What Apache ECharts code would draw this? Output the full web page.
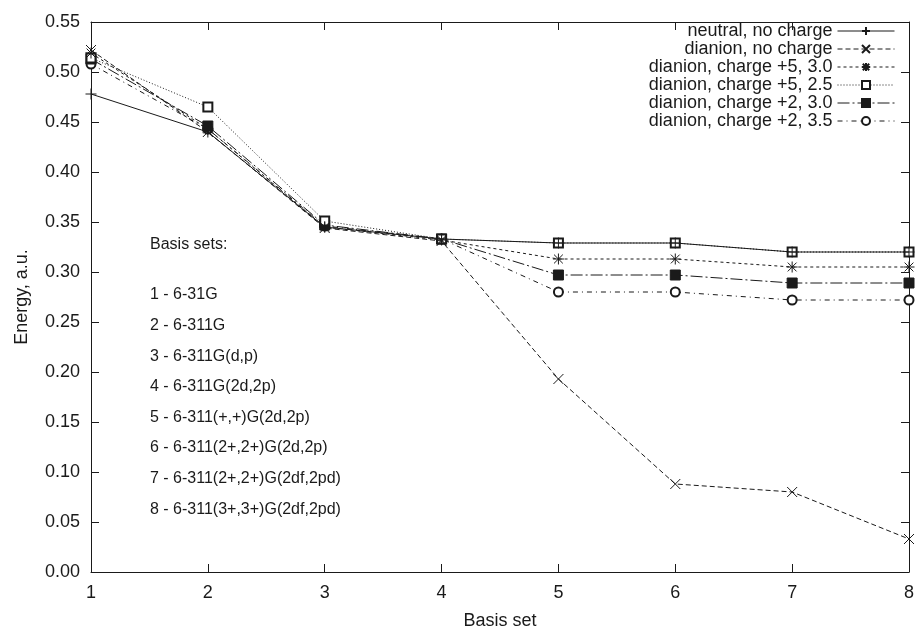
<!DOCTYPE html>
<html>
<head>
<meta charset="utf-8">
<script src="https://cdn.jsdelivr.net/npm/echarts@6/dist/echarts.min.js"></script>
<style>html,body{margin:0;padding:0;background:#fff}#c{width:916px;height:628px}</style>
</head>
<body>
<div id="c"></div>
<script>
const basisSet = [1, 2, 3, 4, 5, 6, 7, 8];
const seriesNames = [
  'neutral, no charge',
  'dianion, no charge',
  'dianion, charge +5, 3.0',
  'dianion, charge +5, 2.5',
  'dianion, charge +2, 3.0',
  'dianion, charge +2, 3.5'
];
const neutralNoCharge = [0.478, 0.440, 0.345, 0.333, 0.329, 0.329, 0.320, 0.320];
const dianionNoCharge = [0.522, 0.440, 0.344, 0.331, 0.193, 0.088, 0.080, 0.033];
const dianionP5_30 = [0.519, 0.443, 0.345, 0.332, 0.313, 0.313, 0.305, 0.305];
const dianionP5_25 = [0.514, 0.465, 0.351, 0.333, 0.329, 0.329, 0.320, 0.320];
const dianionP2_30 = [0.513, 0.446, 0.347, 0.333, 0.297, 0.297, 0.289, 0.289];
const dianionP2_35 = [0.508, 0.443, 0.346, 0.333, 0.280, 0.280, 0.272, 0.272];
const yTicks = [0, 0.05, 0.10, 0.15, 0.20, 0.25, 0.30, 0.35, 0.40, 0.45, 0.50, 0.55];
const basisLabels = [
  'Basis sets:',
  '1 - 6-31G',
  '2 - 6-311G',
  '3 - 6-311G(d,p)',
  '4 - 6-311G(2d,2p)',
  '5 - 6-311(+,+)G(2d,2p)',
  '6 - 6-311(2+,2+)G(2d,2p)',
  '7 - 6-311(2+,2+)G(2df,2pd)',
  '8 - 6-311(3+,3+)G(2df,2pd)'
];

const FONT = '"Liberation Sans", Arial, Helvetica, sans-serif';
const INK = '#1a1a1a';
const PLUS = 'path://M0,5L10,5M5,0L5,10';
const CROSS = 'path://M0,0L10,10M10,0L0,10';
const STAR = 'path://M0,5L10,5M5,0L5,10M1,1L9,9M9,1L1,9';

const allValues = [neutralNoCharge, dianionNoCharge, dianionP5_30, dianionP5_25, dianionP2_30, dianionP2_35];
const styles = [
  { symbol: PLUS, size: 11, dash: 'solid' },
  { symbol: CROSS, size: 10, dash: [5, 3] },
  { symbol: STAR, size: 11, dash: [3, 3] },
  { symbol: 'emptyRect', size: 9, dash: [1, 2] },
  { symbol: 'rect', size: 10, dash: [12, 3, 2, 3] },
  { symbol: 'emptyCircle', size: 9, dash: [5, 4, 1, 4] }
];

const series = seriesNames.map((name, i) => ({
  name: name,
  type: 'line',
  xAxisIndex: 0,
  yAxisIndex: 0,
  data: basisSet.map((x, j) => [x, allValues[i][j]]),
  symbol: styles[i].symbol,
  symbolSize: styles[i].size,
  showAllSymbol: true,
  animation: false,
  lineStyle: { color: INK, width: 1, type: styles[i].dash },
  itemStyle: { color: INK, borderColor: INK, borderWidth: 1 },
  emphasis: { disabled: true },
  z: 10 - i
}));

const graphics = basisLabels.map((t, i) => ({
  type: 'text',
  left: 150,
  top: (i === 0 ? 237 : 287 + (i - 1) * 30.6),
  style: { text: t, font: '16px ' + FONT, fill: INK }
}));

const chart = echarts.init(document.getElementById('c'), null, { renderer: 'canvas' });
chart.setOption({
  animation: false,
  backgroundColor: '#fff',
  textStyle: { fontFamily: FONT },
  grid: { left: 91, right: 7, top: 22, bottom: 56, containLabel: false, outerBoundsMode: 'none' },
  legend: {
    orient: 'vertical',
    align: 'right',
    right: 16,
    top: 17,
    itemWidth: 57,
    itemHeight: 10,
    itemGap: 0,
    data: seriesNames,
    lineStyle: { width: 1 },
    textStyle: { fontSize: 18, color: INK, fontFamily: FONT, lineHeight: 16 },
    selectedMode: false
  },
  xAxis: [{
    type: 'value', min: 1, max: 8, interval: 1,
    name: 'Basis set', nameLocation: 'middle', nameGap: 40,
    nameTextStyle: { fontSize: 18, color: INK, fontFamily: FONT },
    axisLine: { show: true, lineStyle: { color: INK, width: 1 } },
    axisTick: { show: true, inside: true, length: 8, lineStyle: { color: INK } },
    axisLabel: { fontSize: 18, color: INK, margin: 12, fontFamily: FONT },
    splitLine: { show: false }
  }, {
    type: 'value', min: 1, max: 8, interval: 1, position: 'top',
    axisLine: { show: true, onZero: false, lineStyle: { color: INK, width: 1 } },
    axisTick: { show: true, inside: true, length: 8, lineStyle: { color: INK } },
    axisLabel: { show: false },
    splitLine: { show: false }
  }],
  yAxis: [{
    type: 'value', min: yTicks[0], max: yTicks[yTicks.length - 1], interval: 0.05,
    name: 'Energy, a.u.', nameLocation: 'middle', nameGap: 60,
    nameTextStyle: { fontSize: 18, color: INK, fontFamily: FONT },
    axisLine: { show: true, lineStyle: { color: INK, width: 1 } },
    axisTick: { show: true, inside: true, length: 8, lineStyle: { color: INK } },
    axisLabel: { fontSize: 18, color: INK, margin: 11, fontFamily: FONT, formatter: v => v.toFixed(2) },
    splitLine: { show: false }
  }, {
    type: 'value', min: yTicks[0], max: yTicks[yTicks.length - 1], interval: 0.05, position: 'right',
    axisLine: { show: true, onZero: false, lineStyle: { color: INK, width: 1 } },
    axisTick: { show: true, inside: true, length: 8, lineStyle: { color: INK } },
    axisLabel: { show: false },
    splitLine: { show: false }
  }],
  graphic: graphics,
  series: series
});
</script>
</body>
</html>
